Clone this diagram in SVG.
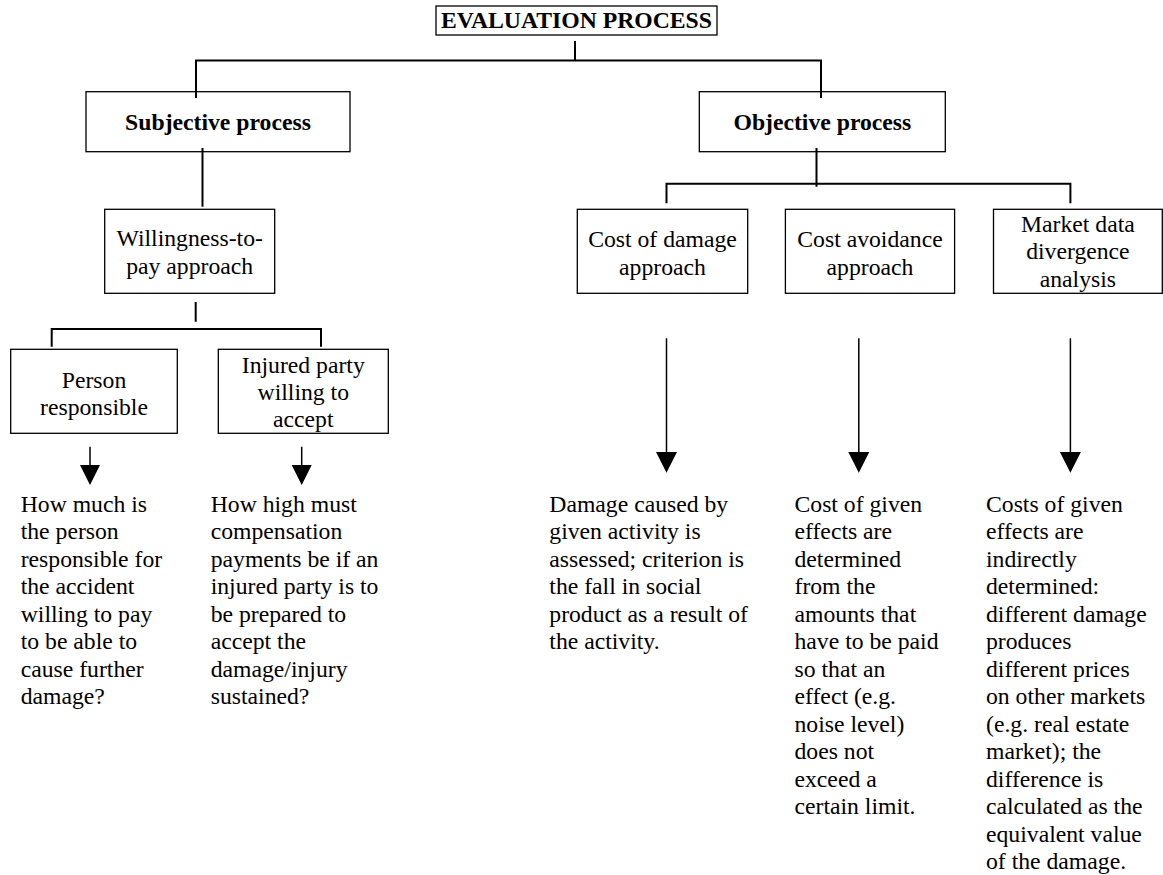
<svg xmlns="http://www.w3.org/2000/svg" width="1163" height="875" viewBox="0 0 1163 875">
<style>
text{font-family:"Liberation Serif","Times New Roman",serif;font-size:23.7px;fill:#000}
.b{font-weight:bold}
.c{text-anchor:middle}
.box{fill:#fff;stroke:#000;stroke-width:1.3}
.con{fill:none;stroke:#000;stroke-width:2}
.arr{fill:none;stroke:#000;stroke-width:1.5}
.head{fill:#000;stroke:none}
</style>
<rect width="1163" height="875" fill="#fff"/>
<g id="title"><rect class="box" x="436" y="6" width="281" height="29"/><text class="b c" x="576.5" y="28.3">EVALUATION PROCESS</text></g>
<g id="subjective"><rect class="box" x="86" y="91.7" width="264" height="60"/><text class="b c" x="218" y="130">Subjective process</text></g>
<g id="objective"><rect class="box" x="699.3" y="91.7" width="246" height="60"/><text class="b c" x="822.4" y="130">Objective process</text></g>
<g id="willingness"><rect class="box" x="104.7" y="209.3" width="170" height="84"/><text class="c" x="189.7" y="246">Willingness-to-<tspan x="189.7" dy="28">pay approach</tspan></text></g>
<g id="person"><rect class="box" x="10.7" y="349.3" width="166.6" height="84"/><text class="c" x="94" y="387.5">Person<tspan x="94" dy="27.2">responsible</tspan></text></g>
<g id="injured"><rect class="box" x="218.3" y="349.3" width="170" height="84"/><text class="c" x="303.3" y="373.3">Injured party<tspan x="303.3" dy="26.8">willing to</tspan><tspan x="303.3" dy="26.8">accept</tspan></text></g>
<g id="costdamage"><rect class="box" x="577.3" y="209.3" width="170.4" height="84"/><text class="c" x="662.5" y="246.5">Cost of damage<tspan x="662.5" dy="28">approach</tspan></text></g>
<g id="costavoid"><rect class="box" x="785.4" y="209.3" width="169.2" height="84"/><text class="c" x="870" y="246.5">Cost avoidance<tspan x="870" dy="28">approach</tspan></text></g>
<g id="market"><rect class="box" x="993.5" y="209.3" width="168.8" height="84"/><text class="c" x="1077.9" y="232">Market data<tspan x="1077.9" dy="27.3">divergence</tspan><tspan x="1077.9" dy="27.3">analysis</tspan></text></g>
<g id="connectors">
<path class="con" d="M575 41V60.5M196 98V60.5H821V98"/>
<path class="con" d="M202.5 148V206.7"/>
<path class="con" d="M195.7 302V321.7M51.7 346.7V329H321V346.7"/>
<path class="con" d="M816.5 148V186.7M666.5 203.3V183.7H1070.4V203.3"/>
<path class="arr" d="M90 446.7V466M301.7 446.7V466M666.5 338.3V454M858.8 338.3V454M1070.4 338.3V454"/>
<path class="head" d="M80 465H100L90 485ZM291.7 465H311.7L301.7 485ZM656 452H677L666.5 472.7ZM848.3 452H869.3L858.8 472.7ZM1059.9 452H1080.9L1070.4 472.7Z"/>
</g>
<g id="desc-person"><text x="20.7" y="511.7">How much is<tspan x="20.7" dy="27.5">the person</tspan><tspan x="20.7" dy="27.5">responsible for</tspan><tspan x="20.7" dy="27.5">the accident</tspan><tspan x="20.7" dy="27.5">willing to pay</tspan><tspan x="20.7" dy="27.5">to be able to</tspan><tspan x="20.7" dy="27.5">cause further</tspan><tspan x="20.7" dy="27.5">damage?</tspan></text></g>
<g id="desc-injured"><text x="210.7" y="511.7">How high must<tspan x="210.7" dy="27.5">compensation</tspan><tspan x="210.7" dy="27.5">payments be if an</tspan><tspan x="210.7" dy="27.5">injured party is to</tspan><tspan x="210.7" dy="27.5">be prepared to</tspan><tspan x="210.7" dy="27.5">accept the</tspan><tspan x="210.7" dy="27.5">damage/injury</tspan><tspan x="210.7" dy="27.5">sustained?</tspan></text></g>
<g id="desc-damage"><text x="549.3" y="511.7">Damage caused by<tspan x="549.3" dy="27.5">given activity is</tspan><tspan x="549.3" dy="27.5">assessed; criterion is</tspan><tspan x="549.3" dy="27.5">the fall in social</tspan><tspan x="549.3" dy="27.5">product as a result of</tspan><tspan x="549.3" dy="27.5">the activity.</tspan></text></g>
<g id="desc-avoid"><text x="794.5" y="511.7">Cost of given<tspan x="794.5" dy="27.5">effects are</tspan><tspan x="794.5" dy="27.5">determined</tspan><tspan x="794.5" dy="27.5">from the</tspan><tspan x="794.5" dy="27.5">amounts that</tspan><tspan x="794.5" dy="27.5">have to be paid</tspan><tspan x="794.5" dy="27.5">so that an</tspan><tspan x="794.5" dy="27.5">effect (e.g.</tspan><tspan x="794.5" dy="27.5">noise level)</tspan><tspan x="794.5" dy="27.5">does not</tspan><tspan x="794.5" dy="27.5">exceed a</tspan><tspan x="794.5" dy="27.5">certain limit.</tspan></text></g>
<g id="desc-market"><text x="986" y="511.7">Costs of given<tspan x="986" dy="27.5">effects are</tspan><tspan x="986" dy="27.5">indirectly</tspan><tspan x="986" dy="27.5">determined:</tspan><tspan x="986" dy="27.5">different damage</tspan><tspan x="986" dy="27.5">produces</tspan><tspan x="986" dy="27.5">different prices</tspan><tspan x="986" dy="27.5">on other markets</tspan><tspan x="986" dy="27.5">(e.g. real estate</tspan><tspan x="986" dy="27.5">market); the</tspan><tspan x="986" dy="27.5">difference is</tspan><tspan x="986" dy="27.5">calculated as the</tspan><tspan x="986" dy="27.5">equivalent value</tspan><tspan x="986" dy="27.5">of the damage.</tspan></text></g>
</svg>
